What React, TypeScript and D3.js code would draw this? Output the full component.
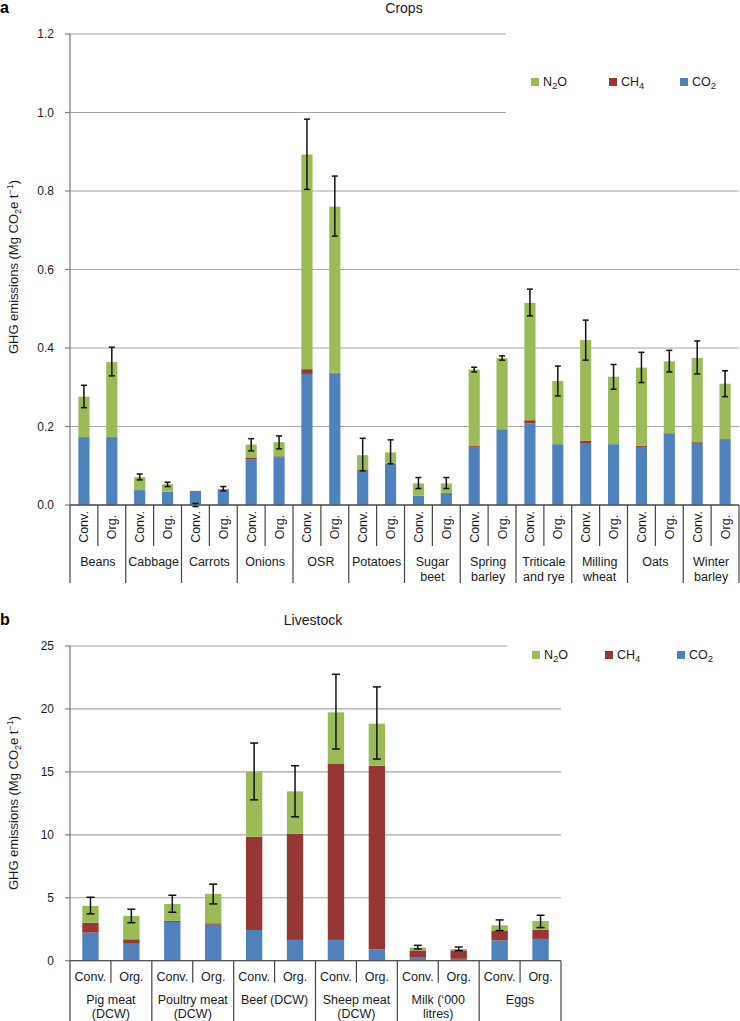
import React from "react";
import * as d3 from "d3";

// ---------- Panel a: Crops ----------
const cropCategories: string[][] = [
  ["Beans"], ["Cabbage"], ["Carrots"], ["Onions"], ["OSR"], ["Potatoes"],
  ["Sugar", "beet"], ["Spring", "barley"], ["Triticale", "and rye"],
  ["Milling", "wheat"], ["Oats"], ["Winter", "barley"],
];
const systems = ["Conv.", "Org."];
const cropCO2 = [0.173, 0.173, 0.038, 0.034, 0.034, 0.040, 0.117, 0.121, 0.334, 0.335, 0.087, 0.105,
  0.024, 0.031, 0.146, 0.193, 0.208, 0.155, 0.158, 0.155, 0.148, 0.183, 0.156, 0.168];
const cropCH4 = [0, 0, 0, 0, 0.002, 0, 0.004, 0.003, 0.012, 0.002, 0.002, 0,
  0, 0, 0.004, 0, 0.008, 0, 0.006, 0, 0.003, 0, 0.004, 0];
const cropN2O = [0.103, 0.191, 0.033, 0.019, 0.000, 0.001, 0.033, 0.036, 0.547, 0.423, 0.038, 0.029,
  0.031, 0.024, 0.195, 0.181, 0.299, 0.161, 0.256, 0.172, 0.199, 0.183, 0.215, 0.141];
const cropErrLow = [0.248, 0.329, 0.064, 0.047, -0.004, 0.036, 0.138, 0.143, 0.804, 0.685, 0.087, 0.105,
  0.042, 0.042, 0.339, 0.369, 0.482, 0.278, 0.369, 0.295, 0.312, 0.339, 0.334, 0.276];
const cropErrHigh = [0.305, 0.402, 0.079, 0.058, 0.004, 0.047, 0.169, 0.176, 0.983, 0.838, 0.170, 0.166,
  0.070, 0.070, 0.351, 0.380, 0.550, 0.354, 0.471, 0.358, 0.389, 0.394, 0.418, 0.342];
const cropTicks = [0, 0.2, 0.4, 0.6, 0.8, 1.0, 1.2];

// ---------- Panel b: Livestock ----------
const stockCategories: string[][] = [
  ["Pig meat", "(DCW)"], ["Poultry meat", "(DCW)"], ["Beef (DCW)"],
  ["Sheep meat", "(DCW)"], ["Milk (\u2018000", "litres)"], ["Eggs"],
];
const stockCO2 = [2.23, 1.35, 3.08, 2.86, 2.44, 1.65, 1.65, 0.90, 0.24, 0.15, 1.62, 1.73];
const stockCH4 = [0.79, 0.35, 0.10, 0.11, 7.40, 8.43, 14.02, 14.59, 0.58, 0.67, 0.74, 0.74];
const stockN2O = [1.33, 1.86, 1.33, 2.34, 5.17, 3.37, 4.06, 3.34, 0.22, 0.11, 0.45, 0.69];
const stockErrLow = [3.72, 3.02, 3.85, 4.51, 12.78, 11.43, 16.82, 16.02, 0.93, 0.80, 2.39, 2.63];
const stockErrHigh = [5.04, 4.09, 5.20, 6.08, 17.29, 15.49, 22.75, 21.75, 1.22, 1.09, 3.24, 3.61];
const stockTicks = [0, 5, 10, 15, 20, 25];

const gases = ["CO2", "CH4", "N2O"];
const colors: Record<string, string> = { CO2: "#4F81BD", CH4: "#953735", N2O: "#9BBB59" };
const legendOrder = ["N2O", "CH4", "CO2"];

const FONT = "'Liberation Sans', Arial, sans-serif";
const TEXT = "#1a1a1a";

function GasLabel({ g }: { g: string }) {
  const base = g.slice(0, -1);
  const sub = g.slice(-1);
  if (g === "N2O") {
    return (<>N<tspan fontSize={9.5} dy={3}>2</tspan><tspan dy={-3}>O</tspan></>);
  }
  return (<>{base}<tspan fontSize={9.5} dy={3}>{sub}</tspan></>);
}

function YLabel({ x, y }: { x: number; y: number }) {
  return (
    <text transform={`translate(${x},${y}) rotate(-90)`} textAnchor="middle" fontSize={13} fill={TEXT}>
      GHG emissions (Mg CO<tspan fontSize={9} dy={3}>2</tspan><tspan dy={-3}>e t</tspan>
      <tspan fontSize={9} dy={-5}>{"\u22121"}</tspan><tspan dy={5}>)</tspan>
    </text>
  );
}

type PanelProps = {
  letter: string; title: string; titleX: number; titleY: number; letterY: number;
  categories: string[][]; co2: number[]; ch4: number[]; n2o: number[]; lo: number[]; hi: number[];
  ticks: number[]; tickFmt: (v: number) => string; yTop: number; yBottom: number; xLeft: number; xRight: number;
  legendBox: [number, number, number, number]; legendX: number[]; legendY: number;
  rotated: boolean; capW: number;
};

function Panel(p: PanelProps) {
  const n = p.co2.length;
  const idx = d3.range(n);
  const x = d3.scaleBand<number>().domain(idx).range([p.xLeft, p.xRight]).paddingInner(0).paddingOuter(0);
  const y = d3.scaleLinear().domain([p.ticks[0], p.ticks[p.ticks.length - 1]]).range([p.yBottom, p.yTop]);
  const rows = idx.map((i) => ({ CO2: p.co2[i], CH4: p.ch4[i], N2O: p.n2o[i] }));
  const series = d3.stack<any>().keys(gases)(rows);
  const bw = x.bandwidth();
  const barW = bw * 0.4;
  const cx = (i: number) => (x(i) as number) + bw / 2;
  const x0 = p.yBottom;
  return (
    <g fontFamily={FONT}>
      <text x={0} y={p.letterY} fontSize={16} fontWeight="bold" fill="#000">{p.letter}</text>
      <text x={p.titleX} y={p.titleY} fontSize={14} textAnchor="middle" fill={TEXT}>{p.title}</text>
      {p.ticks.map((t) => (
        <line key={t} x1={p.xLeft} x2={p.xRight} y1={y(t)} y2={y(t)} stroke="#A6A6A6" strokeWidth={1.2} />
      ))}
      <rect x={p.legendBox[0]} y={p.legendBox[1]} width={p.legendBox[2]} height={p.legendBox[3]} fill="#fff" />
      {legendOrder.map((g, k) => (
        <g key={g}>
          <rect x={p.legendX[k]} y={p.legendY - 8} width={8} height={8} fill={colors[g]} />
          <text x={p.legendX[k] + 12} y={p.legendY} fontSize={12.5} fill={TEXT}><GasLabel g={g} /></text>
        </g>
      ))}
      {p.ticks.map((t) => (
        <g key={"t" + t}>
          <line x1={p.xLeft - 5} x2={p.xLeft} y1={y(t)} y2={y(t)} stroke="#7F7F7F" strokeWidth={1.2} />
          <text x={p.xLeft - 16} y={y(t) + 4} fontSize={12} textAnchor="end" fill={TEXT}>{p.tickFmt(t)}</text>
        </g>
      ))}
      {series.map((s) => (
        <g key={s.key} fill={colors[s.key]}>
          {s.map((d, i) => (
            <rect key={i} x={cx(i) - barW / 2} width={barW} y={y(d[1])} height={Math.max(0, y(d[0]) - y(d[1]))} />
          ))}
        </g>
      ))}
      {idx.map((i) => (
        <g key={"e" + i} stroke="#111" strokeWidth={1.5}>
          <line x1={cx(i)} x2={cx(i)} y1={y(p.lo[i])} y2={y(p.hi[i])} />
          <line x1={cx(i) - p.capW / 2} x2={cx(i) + p.capW / 2} y1={y(p.lo[i])} y2={y(p.lo[i])} />
          <line x1={cx(i) - p.capW / 2} x2={cx(i) + p.capW / 2} y1={y(p.hi[i])} y2={y(p.hi[i])} />
        </g>
      ))}
      <line x1={p.xLeft} x2={p.xLeft} y1={p.yTop} y2={x0} stroke="#7F7F7F" strokeWidth={1.3} />
      <line x1={p.xLeft} x2={p.xRight} y1={x0} y2={x0} stroke="#555" strokeWidth={1.3} />
      {idx.map((i) => {
        const sysLabel = systems[i % 2];
        return p.rotated ? (
          <text key={"s" + i} transform={`translate(${cx(i) + 4.5},${x0 + 22}) rotate(-90)`} textAnchor="middle" fontSize={12.5} fill={TEXT}>{sysLabel}</text>
        ) : (
          <text key={"s" + i} x={cx(i)} y={x0 + 20} textAnchor="middle" fontSize={12.5} fill={TEXT}>{sysLabel}</text>
        );
      })}
      {p.categories.map((_, c) => {
        const xx = (x(c * 2 + 1) as number);
        return <line key={"sd" + c} x1={xx} x2={xx} y1={x0} y2={x0 + (p.rotated ? 41 : 22)} stroke="#444" strokeWidth={1.2} />;
      })}
      {d3.range(p.categories.length + 1).map((c) => {
        const xx = c === p.categories.length ? p.xRight : (x(c * 2) as number);
        return <line key={"ld" + c} x1={xx} x2={xx} y1={x0} y2={x0 + (p.rotated ? 78 : 62)} stroke="#444" strokeWidth={1.2} />;
      })}
      {p.categories.map((lines, c) => {
        const mid = ((x(c * 2) as number) + (x(c * 2 + 1) as number) + bw) / 2;
        const base = x0 + (p.rotated ? 61 : 43);
        return (
          <text key={"c" + c} x={mid} y={base} textAnchor="middle" fontSize={12.5} fill={TEXT}>
            {lines.map((l, k) => (
              <tspan key={k} x={mid} dy={k === 0 ? 0 : 14.5}>{l}</tspan>
            ))}
          </text>
        );
      })}
    </g>
  );
}

export default function App() {
  return (
    <div style={{ position: "absolute", left: 0, top: 0 }}>
      <svg width={740} height={1021} style={{ display: "block", background: "#fff" }}>
        <Panel
          letter="a" title="Crops" titleX={404} titleY={13} letterY={13}
          categories={cropCategories} co2={cropCO2} ch4={cropCH4} n2o={cropN2O} lo={cropErrLow} hi={cropErrHigh}
          ticks={cropTicks} tickFmt={(v) => v.toFixed(1)} yTop={34} yBottom={505} xLeft={70} xRight={739}
          legendBox={[506, 26, 234, 95]} legendX={[531, 609, 680]} legendY={86}
          rotated={true} capW={6}
        />
        <g fontFamily={FONT}><YLabel x={18} y={267} /></g>
        <Panel
          letter="b" title="Livestock" titleX={313} titleY={625} letterY={625}
          categories={stockCategories} co2={stockCO2} ch4={stockCH4} n2o={stockN2O} lo={stockErrLow} hi={stockErrHigh}
          ticks={stockTicks} tickFmt={(v) => String(v)} yTop={646} yBottom={960.7} xLeft={70} xRight={561}
          legendBox={[507, 638, 233, 30]} legendX={[532, 605, 677]} legendY={659}
          rotated={false} capW={8}
        />
        <g fontFamily={FONT}><YLabel x={18} y={803} /></g>
      </svg>
    </div>
  );
}
